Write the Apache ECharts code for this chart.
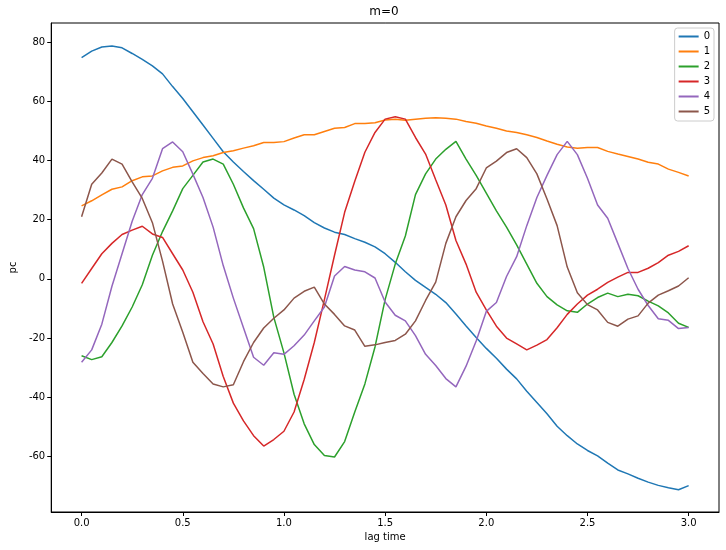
<!DOCTYPE html>
<html>
<head>
<meta charset="utf-8">
<script src="https://cdn.jsdelivr.net/npm/echarts@6/dist/echarts.min.js"></script>
<style>
html,body{margin:0;padding:0;background:#fff;}
#chart{width:726px;height:550px;}
</style>
</head>
<body>
<div id="chart"></div>
<script>
const lagTime = [0.00,0.05,0.10,0.15,0.20,0.25,0.30,0.35,0.40,0.45,0.50,0.55,0.60,0.65,0.70,0.75,0.80,0.85,0.90,0.95,
  1.00,1.05,1.10,1.15,1.20,1.25,1.30,1.35,1.40,1.45,1.50,1.55,1.60,1.65,1.70,1.75,1.80,1.85,1.90,1.95,
  2.00,2.05,2.10,2.15,2.20,2.25,2.30,2.35,2.40,2.45,2.50,2.55,2.60,2.65,2.70,2.75,2.80,2.85,2.90,2.95,3.00];

const pc0 = [74.8,77.0,78.4,78.7,78.1,76.2,74.2,72.0,69.3,65.0,61.0,56.5,52.0,47.5,43.0,39.5,36.3,33.2,30.3,27.3,
  25.0,23.3,21.4,19.0,17.2,15.8,15.0,13.6,12.4,10.8,8.5,5.6,2.4,-0.5,-2.9,-5.2,-8.0,-11.9,-15.9,-19.8,
  -23.5,-26.8,-30.5,-33.8,-38.0,-41.8,-45.6,-49.8,-53.0,-55.8,-58.0,-59.8,-62.3,-64.6,-65.9,-67.4,-68.7,-69.8,-70.6,-71.3,-69.9];

const pc1 = [24.7,26.4,28.4,30.3,31.1,33.2,34.5,34.8,36.5,37.7,38.2,39.9,41.0,41.6,42.7,43.3,44.2,45.0,46.1,46.1,
  46.4,47.6,48.7,48.7,49.8,50.9,51.2,52.5,52.5,52.8,53.7,54.0,53.6,54.0,54.3,54.5,54.3,54.0,53.2,52.6,
  51.7,50.9,50.0,49.5,48.7,47.8,46.6,45.5,44.6,44.2,44.4,44.4,43.1,42.2,41.4,40.5,39.4,38.8,37.1,36.0,34.8];

const pc2 = [-26.0,-27.3,-26.3,-21.5,-15.9,-9.5,-2.0,8.0,16.0,23.0,30.5,35.0,39.5,40.5,38.8,32.0,24.0,17.0,4.0,-13.0,
  -25.0,-39.0,-49.0,-56.0,-59.7,-60.2,-55.0,-45.0,-35.5,-23.0,-7.0,5.0,14.5,28.5,35.5,40.5,43.8,46.5,40.5,35.0,
  29.0,23.0,17.5,11.5,5.0,-1.5,-6.0,-8.8,-10.8,-11.3,-8.5,-6.3,-4.8,-6.0,-5.2,-5.7,-7.5,-9.1,-11.5,-15.0,-16.4];

const pc3 = [-1.5,3.5,8.5,12.0,15.0,16.5,17.8,15.2,14.0,8.5,3.0,-4.5,-14.5,-22.0,-33.0,-42.0,-48.0,-53.0,-56.5,-54.3,
  -51.5,-45.0,-34.0,-21.5,-7.0,8.0,22.5,33.0,42.8,49.5,54.0,54.8,54.0,47.8,42.2,33.5,25.0,13.0,5.0,-4.5,
  -10.5,-16.0,-20.0,-22.0,-24.0,-22.4,-20.5,-16.5,-12.0,-8.5,-5.5,-3.5,-1.2,0.6,2.2,2.2,3.6,5.5,8.0,9.3,11.2];

const pc4 = [-28.2,-24.0,-15.3,-2.5,8.5,19.5,28.5,34.0,44.0,46.3,43.0,35.4,27.5,17.5,4.5,-6.5,-16.5,-26.5,-29.2,-25.0,
  -25.5,-22.6,-19.0,-14.2,-9.5,1.0,4.2,3.0,2.4,0.3,-7.8,-12.3,-14.2,-19.2,-25.5,-29.3,-33.7,-36.5,-29.5,-21.0,
  -11.0,-8.0,0.8,7.5,18.0,27.5,35.0,42.0,46.5,42.0,34.0,25.0,20.5,12.0,3.5,-3.5,-9.0,-13.5,-14.0,-16.8,-16.4];

const pc5 = [21.0,32.0,35.8,40.5,38.8,32.8,27.2,19.0,6.0,-8.5,-18.0,-28.2,-32.0,-35.5,-36.5,-35.8,-28.0,-21.5,-16.6,-13.3,
  -10.5,-6.5,-4.2,-2.8,-8.5,-12.0,-15.9,-17.3,-22.8,-22.3,-21.5,-20.8,-18.7,-14.2,-7.3,-1.1,12.0,21.0,26.5,30.5,
  37.5,39.8,42.7,44.0,41.0,35.5,27.0,18.0,4.0,-4.7,-8.7,-10.5,-14.7,-16.0,-13.6,-12.5,-8.2,-5.5,-4.0,-2.4,0.4];

const seriesNames = ['0','1','2','3','4','5'];
const seriesValues = [pc0, pc1, pc2, pc3, pc4, pc5];
const colors = ['#1f77b4','#ff7f0e','#2ca02c','#d62728','#9467bd','#8c564b'];
const xTicks = [0, 0.5, 1, 1.5, 2, 2.5, 3];
const yTicks = [-60, -40, -20, 0, 20, 40, 60, 80];

const FONT = 'DejaVu Sans';
const chart = echarts.init(document.getElementById('chart'), null, {renderer: 'canvas'});

const option = {
  animation: false,
  backgroundColor: '#fff',
  color: colors,
  textStyle: {fontFamily: FONT},
  grid: {left: 49, right: 7, top: 23, bottom: 38, show: true, borderColor: '#000', borderWidth: 1, backgroundColor: 'transparent'},
  graphic: [
    {type: 'text', x: 384, y: 12, style: {text: 'm=0', fontSize: 12, fontFamily: FONT, fill: '#000', align: 'center', verticalAlign: 'middle'}}
  ],
  legend: {
    show: true,
    orient: 'vertical',
    right: 12,
    top: 28,
    data: seriesNames,
    icon: 'rect',
    itemWidth: 20,
    itemHeight: 2,
    itemGap: 0,
    padding: [1, 4, 2, 4],
    backgroundColor: 'rgba(255,255,255,0.8)',
    borderColor: '#cccccc',
    borderWidth: 1,
    borderRadius: 3,
    textStyle: {fontSize: 10, fontFamily: FONT, color: '#000', lineHeight: 15, height: 15}
  },
  xAxis: {
    type: 'value',
    min: -0.15,
    max: 3.15,
    name: 'lag time',
    nameLocation: 'middle',
    nameGap: 20,
    nameTextStyle: {fontSize: 10, fontFamily: FONT, color: '#000'},
    axisLine: {show: true, onZero: false, lineStyle: {color: '#000', width: 1}},
    axisTick: {show: true, length: 4, lineStyle: {color: '#000'}, customValues: xTicks},
    axisLabel: {fontSize: 10, fontFamily: FONT, color: '#000', margin: 6, customValues: xTicks,
      formatter: v => v.toFixed(1)},
    splitLine: {show: false}
  },
  yAxis: {
    type: 'value',
    min: -78.8,
    max: 86.5,
    name: 'pc',
    nameLocation: 'middle',
    nameGap: 33,
    nameRotate: 90,
    nameTextStyle: {fontSize: 10, fontFamily: FONT, color: '#000'},
    axisLine: {show: true, onZero: false, lineStyle: {color: '#000', width: 1}},
    axisTick: {show: true, length: 4, lineStyle: {color: '#000'}, customValues: yTicks},
    axisLabel: {fontSize: 10, fontFamily: FONT, color: '#000', margin: 6, customValues: yTicks},
    splitLine: {show: false}
  },
  series: seriesNames.map((name, i) => ({
    name: name,
    type: 'line',
    showSymbol: false,
    symbol: 'none',
    smooth: false,
    lineStyle: {width: 1.5, color: colors[i]},
    itemStyle: {color: colors[i]},
    data: lagTime.map((t, j) => [t, seriesValues[i][j]])
  }))
};
chart.setOption(option);
</script>
</body>
</html>
